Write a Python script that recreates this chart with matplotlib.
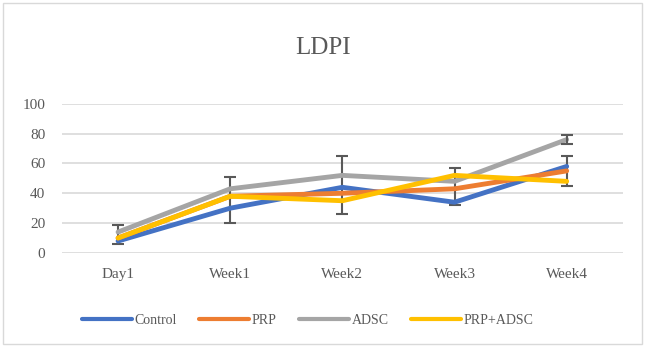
import numpy as np
import matplotlib.pyplot as plt

# data
days = ['Day1', 'Week1', 'Week2', 'Week3', 'Week4']
control = [8, 30, 44, 34, 58]
prp = [10, 38, 40, 43, 55]
adsc = [14, 43, 52, 48, 76]
prp_adsc = [10, 38, 35, 52, 48]

# error bar ranges (low, high) as seen in the picture
err_low = [6, 20, 26, 32, 45]
err_high = [19, 51, 65, 57, 65]
adsc_err = [0, 0, 0, 0, 3]

colors = ['#4472C4', '#ED7D31', '#A5A5A5', '#FFC000']
names = ['Control', 'PRP', 'ADSC', 'PRP+ADSC']

plt.rcParams['font.family'] = ['Liberation Serif', 'DejaVu Serif']

fig = plt.figure(figsize=(6.46, 3.46), dpi=100)
ax = fig.add_axes([0.096, 0.269, 0.868, 0.431])

# chart area border
fig.patches.append(plt.Rectangle((0.004, 0.006), 0.99, 0.985, transform=fig.transFigure,
                                 fill=False, edgecolor='#D9D9D9', lw=1))

x = np.arange(len(days))
for vals, c, n in zip([control, prp, adsc, prp_adsc], colors, names):
    ax.plot(x, vals, color=c, lw=3.5, label=n, solid_capstyle='round', zorder=3)

mid = (np.array(err_low) + np.array(err_high)) / 2
half = (np.array(err_high) - np.array(err_low)) / 2
ax.errorbar(x, mid, yerr=half, fmt='none', ecolor='#595959', elinewidth=1.5,
            capsize=4, capthick=1.5, zorder=2)
ax.errorbar(x[4:], adsc[4:], yerr=adsc_err[4:], fmt='none', ecolor='#595959',
            elinewidth=1.5, capsize=4, capthick=1.5, zorder=4)

ax.set_xlim(-0.5, 4.5)
ax.set_ylim(0, 100)
ax.set_yticks(range(0, 101, 20))
ax.set_xticks(x)
ax.set_xticklabels(days)
ax.grid(axis='y', color='#D9D9D9', lw=1.2)
ax.set_axisbelow(True)
for s in ax.spines.values():
    s.set_visible(False)
ax.tick_params(length=0, colors='#595959', labelsize=11)
ax.tick_params(axis='x', pad=11)
ax.tick_params(axis='y', pad=12)

fig.text(0.5, 0.86, 'LDPI', ha='center', va='center', fontsize=18, color='#595959')
leg = fig.legend(loc='center', bbox_to_anchor=(0.476, 0.075), ncol=4, frameon=False,
                 fontsize=10, labelcolor='#595959', handlelength=3.6, columnspacing=1.6,
                 handletextpad=0.2)
for h in leg.get_lines():
    h.set_linewidth(3)

fig.savefig('out.png', dpi=100)
